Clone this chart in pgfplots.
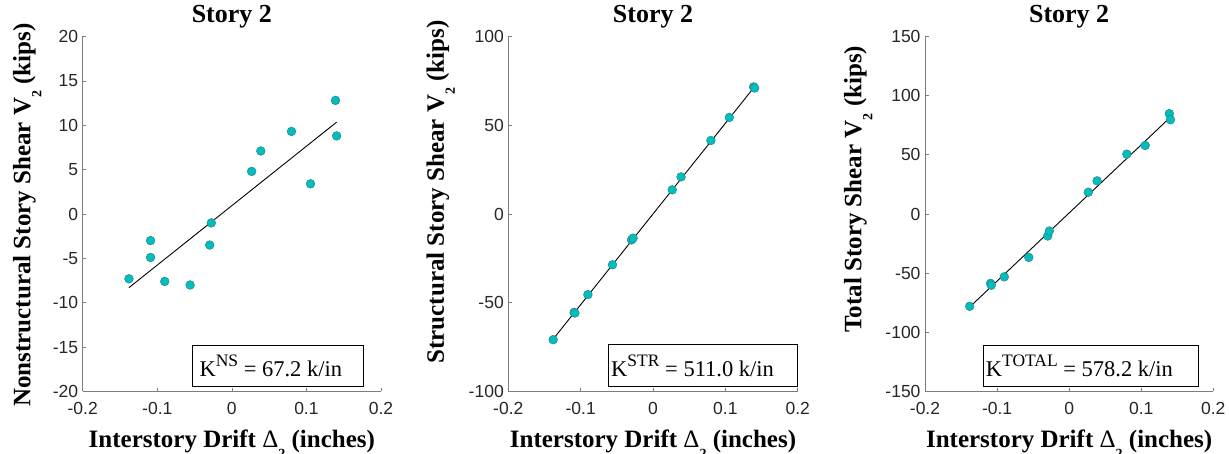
\documentclass[border=0pt]{standalone}
\usepackage{fontspec}
\setmainfont{Liberation Serif}
\newfontfamily\ticksf{Liberation Sans}
\usepackage{pgfplots}
\usepackage{pgfplotstable}
\pgfplotsset{compat=1.18}
\definecolor{mk}{RGB}{0,190,190}
\definecolor{mkedge}{RGB}{50,120,120}
\definecolor{axgray}{RGB}{125,125,125}
\definecolor{tlc}{RGB}{38,38,38}
\newcommand{\sub}[1]{\raisebox{-11pt}{\fontsize{14}{14}\selectfont #1}}
\newcommand{\sups}[1]{\raisebox{10.5pt}{\fontsize{17.5}{17.5}\selectfont #1}}

\pgfplotstableread{
x y
-0.138 -7.3
-0.109 -3.0
-0.109 -4.9
-0.090 -7.6
-0.056 -8.0
-0.0297 -3.5
-0.0275 -1.0
0.0266 4.8
0.0388 7.1
0.080 9.3
0.1055 3.4
0.139 12.8
0.1405 8.8
}\nsdata
\pgfplotstableread{
x y
-0.138 -70.8
-0.109 -55.4
-0.108 -55.8
-0.090 -45.4
-0.056 -28.6
-0.0297 -14.6
-0.0275 -13.6
0.0266 13.6
0.0388 20.9
0.080 41.4
0.1055 54.4
0.139 71.6
0.1405 71.0
}\strdata
\pgfplotstableread{
x y
-0.138 -78.0
-0.109 -58.6
-0.108 -60.2
-0.090 -53.1
-0.056 -36.7
-0.0297 -18.6
-0.0275 -14.4
0.0266 18.4
0.0388 28.0
0.080 50.6
0.1055 57.9
0.139 84.8
0.1405 79.7
}\totdata

\pgfplotsset{
  panel/.style={
    scale only axis, height=355pt,
    axis x line*=bottom, axis y line*=left,
    axis line style={axgray, line width=0.7pt, -},
    major tick style={axgray, line width=0.7pt},
    tick align=inside, major tick length=3.5pt,
    xmin=-0.2, xmax=0.2,
    xtick={-0.2,-0.1,0,0.1,0.2},
    xticklabels={-0.2,-0.1,0,0.1,0.2},
    tick label style={font=\ticksf\fontsize{17.5}{19}\selectfont, text=tlc},
    xticklabel style={yshift=-7.5pt},
    yticklabel style={xshift=-1pt},
    title style={font=\bfseries\fontsize{26}{28}\selectfont, at={(axis description cs:0.5,1.023)}, anchor=base},
    xlabel style={font=\bfseries\fontsize{25}{27}\selectfont, at={(axis description cs:0.5,-0.157)}, anchor=base},
    ylabel style={font=\bfseries\fontsize{25}{27}\selectfont, anchor=base},
    title={Story 2},
    xlabel={Interstory Drift {\mdseries Δ}\sub{2} (inches)},
    clip=false,
  },
  pts/.style={only marks, mark=*, mark size=4.4pt, mark options={fill=mk, draw=mkedge, line width=0.4pt}},
  fit/.style={black, line width=0.9pt},
}

\begin{document}
\begin{tikzpicture}
\path[use as bounding box] (0,0) rectangle (1229pt,454pt);

% Panel 1
\begin{axis}[panel, at={(82.7pt,62.5pt)}, anchor=south west, width=298.3pt,
  ymin=-20, ymax=20, ytick={-20,-15,-10,-5,0,5,10,15,20},
  yticklabels={-20,-15,-10,-5,0,5,10,15,20},
  ylabel={Nonstructural Story Shear V\sub{2} (kips)},
  ylabel style={at={(axis description cs:-0.175,0.497)}}]
\addplot[fit] coordinates {(-0.138,-8.3) (0.1405,10.35)};
\addplot[pts] table[x=x,y=y] {\nsdata};
\draw[black, line width=0.8pt, fill=white] (axis description cs:0.3674,0.0135) rectangle (axis description cs:0.9407,0.131);
\node[anchor=base west, inner sep=0pt, font=\fontsize{22.5}{25}\selectfont] at (axis description cs:0.391,0.0417) {K\sups{NS} = 67.2 k/in};
\end{axis}

% Panel 2
\begin{axis}[panel, at={(508.3pt,62.5pt)}, anchor=south west, width=289.4pt,
  ymin=-100, ymax=100, ytick={-100,-50,0,50,100},
  yticklabels={-100,-50,0,50,100},
  ylabel={Structural Story Shear V\sub{2} (kips)},
  ylabel style={at={(axis description cs:-0.2229,0.562)}}]
\addplot[fit] coordinates {(-0.138,-70.5) (0.1405,71.8)};
\addplot[pts] table[x=x,y=y] {\strdata};
\draw[black, line width=0.8pt, fill=white] (axis description cs:0.3455,0.0155) rectangle (axis description cs:1.0,0.133);
\node[anchor=base west, inner sep=0pt, font=\fontsize{22.5}{25}\selectfont] at (axis description cs:0.355,0.0417) {K\sups{STR} = 511.0 k/in};
\end{axis}

% Panel 3
\begin{axis}[panel, at={(925pt,62.5pt)}, anchor=south west, width=288.3pt,
  ymin=-150, ymax=150, ytick={-150,-100,-50,0,50,100,150},
  yticklabels={-150,-100,-50,0,50,100,150},
  ylabel={Total Story Shear V\sub{2} (kips)},
  ylabel style={at={(axis description cs:-0.2203,0.570)}}]
\addplot[fit] coordinates {(-0.138,-78.6) (0.1405,81.8)};
\addplot[pts] table[x=x,y=y] {\totdata};
\draw[black, line width=0.8pt, fill=white] (axis description cs:0.2022,0.0135) rectangle (axis description cs:0.949,0.131);
\node[anchor=base west, inner sep=0pt, font=\fontsize{22.5}{25}\selectfont] at (axis description cs:0.2105,0.0417) {K\sups{TOTAL} = 578.2 k/in};
\end{axis}
\end{tikzpicture}
\end{document}
